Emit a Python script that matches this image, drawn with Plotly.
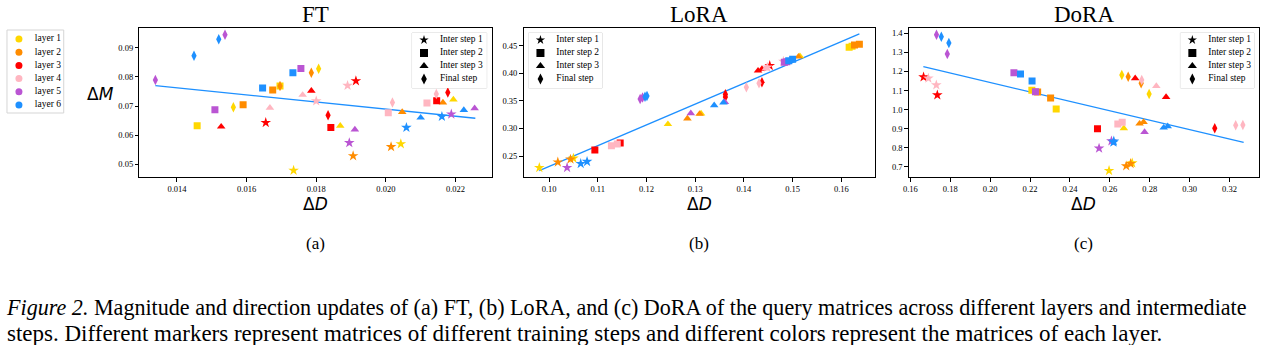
import plotly.graph_objects as go

W, H = 1266, 345

# ---------------- data ----------------
layer_names = ["layer 1", "layer 2", "layer 3", "layer 4", "layer 5", "layer 6"]
layer_colors = ["#FFD700", "#FF8C00", "#FF0000", "#FFB6C1", "#BA55D3", "#1E90FF"]
step_names = ["Inter step 1", "Inter step 2", "Inter step 3", "Final step"]
step_symbols = ["star", "square", "triangle-up", "diamond-tall"]
step_sizes = [8, 7, 7.5, 7.5]

# FT: layer index, step index, dD, dM
ft_layer = [1]*8 + [2]*8 + [3]*8 + [4]*8 + [5]*8 + [6]*8
ft_step = [2, 4, 2, 1, 4, 3, 1, 3,
           2, 2, 4, 4, 1, 1, 3, 3,
           3, 1, 3, 4, 2, 1, 2, 4,
           3, 3, 1, 1, 2, 4, 2, 4,
           4, 2, 4, 2, 1, 3, 1, 3,
           4, 4, 2, 2, 1, 3, 1, 3]
ft_x = [0.01458, 0.01562, 0.01696, 0.01735, 0.01807, 0.01869, 0.02043, 0.02194,
        0.01590, 0.01675, 0.01696, 0.01786, 0.01906, 0.02015, 0.02047, 0.02164,
        0.01527, 0.01655, 0.01786, 0.01834, 0.01842, 0.01914, 0.02146, 0.02178,
        0.01667, 0.01761, 0.01800, 0.01890, 0.02007, 0.02019, 0.02118, 0.02145,
        0.01338, 0.01509, 0.01538, 0.01756, 0.01895, 0.01911, 0.02188, 0.02255,
        0.01449, 0.01520, 0.01646, 0.01733, 0.02059, 0.02100, 0.02161, 0.02224]
ft_y = [0.0632, 0.0696, 0.0769, 0.0479, 0.0828, 0.0632, 0.0570, 0.0722,
        0.0704, 0.0755, 0.0769, 0.0814, 0.0529, 0.0560, 0.0679, 0.0712,
        0.0629, 0.0643, 0.0752, 0.0668, 0.0626, 0.0786, 0.0718, 0.0746,
        0.0694, 0.0738, 0.0717, 0.0770, 0.0677, 0.0712, 0.0710, 0.0741,
        0.0789, 0.0687, 0.0944, 0.0829, 0.0574, 0.0619, 0.0672, 0.0692,
        0.0872, 0.0929, 0.0762, 0.0814, 0.0626, 0.0660, 0.0664, 0.0686]
ft_fit_x = [0.01338, 0.02257]
ft_fit_y = [0.0770, 0.0658]

# LoRA
lora_layer = [1]*7 + [2]*7 + [3]*8 + [4]*7 + [5]*7 + [6]*8
lora_step = [1, 1, 3, 3, 3, 2, 2,
             1, 1, 3, 3, 3, 2, 2,
             2, 2, 4, 4, 3, 3, 4, 1,
             2, 2, 4, 4, 3, 1, 1,
             1, 4, 4, 3, 3, 2, 2,
             1, 1, 4, 4, 3, 3, 2, 2]
lora_x = [0.0980, 0.1050, 0.1244, 0.1312, 0.1515, 0.1616, 0.1622,
          0.1018, 0.1044, 0.1284, 0.1309, 0.1512, 0.1627, 0.1637,
          0.1094, 0.1146, 0.1362, 0.1362, 0.1429, 0.1437, 0.1437, 0.1453,
          0.1128, 0.1140, 0.1405, 0.1431, 0.1445, 0.1448, 0.1481,
          0.1037, 0.1187, 0.1192, 0.1291, 0.1361, 0.1483, 0.1488,
          0.1065, 0.1078, 0.1197, 0.1201, 0.1339, 0.1358, 0.1492, 0.1500]
lora_y = [0.2290, 0.2460, 0.3076, 0.3270, 0.4310, 0.4471, 0.4490,
          0.2388, 0.2442, 0.3178, 0.3263, 0.4301, 0.4513, 0.4525,
          0.2610, 0.2738, 0.3620, 0.3570, 0.4047, 0.4075, 0.3837, 0.4138,
          0.2688, 0.2720, 0.3746, 0.3819, 0.4085, 0.4109, 0.4215,
          0.2290, 0.3535, 0.3560, 0.3275, 0.3475, 0.4199, 0.4210,
          0.2362, 0.2399, 0.3575, 0.3590, 0.3420, 0.3468, 0.4228, 0.4254]
lora_fit_x = [0.0980, 0.1637]
lora_fit_y = [0.2236, 0.4712]

# DoRA
dora_layer = [1]*7 + [2]*8 + [3]*6 + [4]*8 + [5]*7 + [6]*8
dora_step = [2, 2, 1, 3, 4, 4, 1,
             2, 2, 1, 1, 4, 4, 3, 3,
             1, 1, 2, 3, 3, 4,
             1, 1, 2, 2, 4, 3, 4, 4,
             4, 4, 2, 2, 1, 1, 3,
             4, 4, 2, 2, 1, 1, 3, 3]
dora_x = [0.2209, 0.2331, 0.2596, 0.2670, 0.2660, 0.2797, 0.2712,
          0.2238, 0.2303, 0.2682, 0.2704, 0.2692, 0.2757, 0.2749, 0.2769,
          0.1666, 0.1735, 0.2538, 0.2727, 0.2882, 0.3126,
          0.1690, 0.1730, 0.2640, 0.2662, 0.2760, 0.2833, 0.3231, 0.3267,
          0.1731, 0.1785, 0.2119, 0.2227, 0.2546, 0.2608, 0.2774,
          0.1755, 0.1793, 0.2152, 0.2210, 0.2618, 0.2620, 0.2870, 0.2890]
dora_y = [1.1016, 1.0037, 0.6806, 0.9026, 1.1817, 1.0822, 0.7209,
          1.0927, 1.0613, 0.7053, 0.7173, 1.1728, 1.1382, 0.9267, 0.9356,
          1.1712, 1.0770, 0.9005, 1.1644, 1.0665, 0.9026,
          1.1644, 1.1293, 0.9251, 0.9340, 1.1555, 1.1241, 0.9183, 0.9199,
          1.3927, 1.2916, 1.1937, 1.0942, 0.7979, 0.8361, 0.8832,
          1.3822, 1.3492, 1.1869, 1.1503, 0.8293, 0.8350, 0.9058, 0.9131]
dora_fit_x = [0.1665, 0.3271]
dora_fit_y = [1.2251, 0.8293]

panel_titles = ["FT", "LoRA", "DoRA"]
panel_tags = ["(a)", "(b)", "(c)"]
x_label = "Δ<i>D</i>"
y_label = "Δ<i>M</i>"
caption_1 = ("<i>Figure 2.</i> Magnitude and direction updates of (a) FT, (b) LoRA, and (c) DoRA "
             "of the query matrices across different layers and intermediate")
caption_2 = ("steps. Different markers represent matrices of different training steps "
             "and different colors represent the matrices of each layer.")

# ---------------- layout helpers ----------------
def dx(p0, p1):
    return [p0 / W, p1 / W]

def dy(p0, p1):  # p0 top pixel, p1 bottom pixel
    return [1 - p1 / H, 1 - p0 / H]

SERIF = "Liberation Serif"
SANS = "DejaVu Sans"

panels = [
    dict(x=ft_x, y=ft_y, layer=ft_layer, step=ft_step, fx=ft_fit_x, fy=ft_fit_y,
         px=(134, 488), xr=[0.01292, 0.02304], yr=[0.04565, 0.09675],
         xt=dict(tick0=0.014, dtick=0.002, tickformat=".3f"),
         yt=dict(tick0=0.05, dtick=0.01, tickformat=".2f")),
    dict(x=lora_x, y=lora_y, layer=lora_layer, step=lora_step, fx=lora_fit_x, fy=lora_fit_y,
         px=(520, 873), xr=[0.09476, 0.16688], yr=[0.212, 0.482],
         xt=dict(tick0=0.10, dtick=0.01, tickformat=".2f"),
         yt=dict(tick0=0.25, dtick=0.05, tickformat=".2f")),
    dict(x=dora_x, y=dora_y, layer=dora_layer, step=dora_step, fx=dora_fit_x, fy=dora_fit_y,
         px=(907, 1259), xr=[0.15915, 0.3348], yr=[0.6476, 1.4278],
         xt=dict(tick0=0.16, dtick=0.02, tickformat=".2f"),
         yt=dict(tick0=0.7, dtick=0.1, tickformat=".1f")),
]
TOP, BOT = 28, 177

fig = go.Figure()
layout = dict(width=W, height=H, margin=dict(l=0, r=0, t=0, b=0),
              paper_bgcolor="white", plot_bgcolor="white", showlegend=False,
              annotations=[], shapes=[])

axis_common = dict(showgrid=False, zeroline=False, showline=True, linecolor="black",
                   linewidth=1, mirror=True, ticks="outside", ticklen=3.5, tickwidth=0.8,
                   tickcolor="black", tickfont=dict(family=SERIF, size=8.5, color="black"))

for i, p in enumerate(panels):
    n = i + 1
    xa = "x" if n == 1 else f"x{n}"
    ya = "y" if n == 1 else f"y{n}"
    layout[f"xaxis{'' if n == 1 else n}"] = dict(axis_common, domain=dx(*p["px"]), range=p["xr"],
                                                 anchor=ya, tickmode="linear", **p["xt"])
    layout[f"yaxis{'' if n == 1 else n}"] = dict(axis_common, domain=dy(TOP, BOT), range=p["yr"],
                                                 anchor=xa, tickmode="linear", **p["yt"])
    fig.add_trace(go.Scatter(
        x=p["fx"], y=p["fy"], mode="lines", xaxis=xa, yaxis=ya,
        line=dict(color="#1E90FF", width=1.3), hoverinfo="skip"))
    fig.add_trace(go.Scatter(
        x=p["x"], y=p["y"], mode="markers", xaxis=xa, yaxis=ya,
        marker=dict(color=[layer_colors[l - 1] for l in p["layer"]],
                    symbol=[step_symbols[s - 1] for s in p["step"]],
                    size=[step_sizes[s - 1] for s in p["step"]],
                    opacity=1, line=dict(width=0))))
    cx = (p["px"][0] + p["px"][1]) / 2 / W
    layout["annotations"] += [
        dict(text=panel_titles[i], x=cx, y=1 - 15 / H, xref="paper", yref="paper",
             showarrow=False, xanchor="center", yanchor="middle",
             font=dict(family=SERIF, size=23, color="black")),
        dict(text=x_label, x=cx, y=1 - 204 / H, xref="paper", yref="paper",
             showarrow=False, xanchor="center", yanchor="middle",
             font=dict(family=SANS, size=17, color="black")),
        dict(text=panel_tags[i], x=cx, y=1 - 243 / H, xref="paper", yref="paper",
             showarrow=False, xanchor="center", yanchor="middle",
             font=dict(family=SERIF, size=17, color="black")),
    ]

layout["annotations"].append(
    dict(text=y_label, x=95 / W, y=1 - 94 / H, xref="paper", yref="paper",
         showarrow=False, xanchor="center", yanchor="middle",
         font=dict(family=SANS, size=17, color="black")))

# ---------------- legends (as small hidden axes) ----------------
legend_boxes = [
    dict(kind="layer", px=(1, 58), py=(30, 113), row0=39, gap=13.2),
    dict(kind="step", px=(408, 483), py=(33, 88), row0=40, gap=13),
    dict(kind="step", px=(525, 599), py=(33, 88), row0=40, gap=13),
    dict(kind="step", px=(1180, 1254), py=(33, 88), row0=40, gap=13),
]
for j, lb in enumerate(legend_boxes):
    n = 4 + j
    w = lb["px"][1] - lb["px"][0]
    h = lb["py"][1] - lb["py"][0]
    y_top = -(lb["row0"] - lb["py"][0]) / lb["gap"]
    y_bot = y_top + h / lb["gap"]
    layout[f"xaxis{n}"] = dict(domain=dx(*lb["px"]), range=[0, w], visible=False,
                               anchor=f"y{n}", fixedrange=True)
    layout[f"yaxis{n}"] = dict(domain=dy(*lb["py"]), range=[y_bot, y_top], visible=False,
                               anchor=f"x{n}", fixedrange=True)
    layout["shapes"].append(dict(type="rect", xref=f"x{n} domain", yref=f"y{n} domain",
                                 x0=0, x1=1, y0=0, y1=1, layer="below",
                                 line=dict(color="#d5d5d5", width=1), fillcolor="white"))
    if lb["kind"] == "layer":
        labels = layer_names
        colors = layer_colors
        symbols = ["circle"] * len(labels)
        sizes = [7] * len(labels)
    else:
        labels = step_names
        colors = ["black"] * len(labels)
        symbols = step_symbols
        sizes = [7, 8, 8, 8]
    rows = list(range(len(labels)))
    fig.add_trace(go.Scatter(x=[12] * len(rows), y=rows, mode="markers",
                             xaxis=f"x{n}", yaxis=f"y{n}", hoverinfo="skip",
                             marker=dict(color=colors, symbol=symbols, size=sizes,
                                         opacity=1, line=dict(width=0))))
    fig.add_trace(go.Scatter(x=[28] * len(rows), y=rows, mode="text", text=labels,
                             textposition="middle right", xaxis=f"x{n}", yaxis=f"y{n}",
                             hoverinfo="skip",
                             textfont=dict(family=SERIF, size=9.5, color="black")))

# ---------------- caption ----------------
layout["annotations"] += [
    dict(text=caption_1, x=0, y=1 - 307 / H, xref="paper", yref="paper", showarrow=False,
         xanchor="left", yanchor="middle", xshift=-2,
         font=dict(family=SERIF, size=22.1, color="black")),
    dict(text=caption_2, x=0, y=1 - 333 / H, xref="paper", yref="paper", showarrow=False,
         xanchor="left", yanchor="middle", xshift=-1,
         font=dict(family=SERIF, size=23, color="black")),
]

fig.update_layout(**layout)
fig.write_html("out.html")
